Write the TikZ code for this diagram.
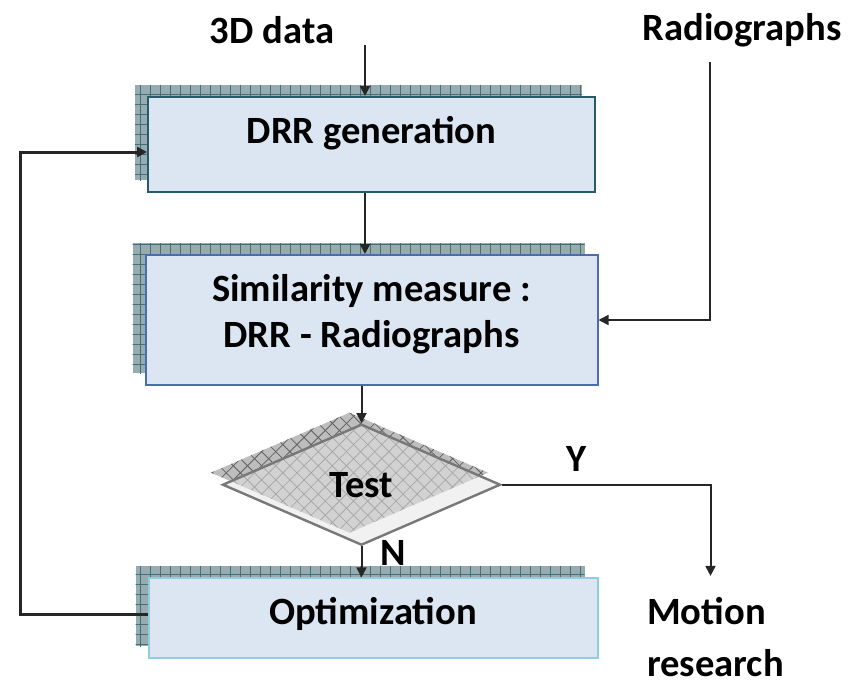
\documentclass[tikz,border=0pt]{standalone}
\usepackage{fontspec}
\setmainfont{Carlito}
\usetikzlibrary{positioning, arrows.meta, shapes.geometric, calc, shadows, patterns.meta}

\definecolor{boxfill}{RGB}{220,230,242}
\definecolor{shadefill}{RGB}{150,172,176}
\definecolor{shadegrid}{RGB}{70,110,118}
\definecolor{drrline}{RGB}{40,90,105}
\definecolor{simline}{RGB}{75,110,170}
\definecolor{optline}{RGB}{145,205,220}
\definecolor{testshade}{RGB}{135,135,135}
\definecolor{testgrid}{RGB}{95,95,95}
\definecolor{testline}{RGB}{120,120,120}

\begin{document}
\begin{tikzpicture}[x=0.5pt, y=-0.5pt,
			font=\fontsize{19.3}{23}\selectfont\bfseries,
			boxshadow/.style={
				general shadow={shadow xshift=-6.5pt, shadow yshift=6pt, fill=shadefill},
				general shadow={shadow xshift=-6.5pt, shadow yshift=6pt, pattern={Lines[angle=0, distance=5pt, line width=0.5pt]}, pattern color=shadegrid},
				general shadow={shadow xshift=-6.5pt, shadow yshift=6pt, pattern={Lines[angle=90, distance=5pt, line width=0.5pt]}, pattern color=shadegrid}},
			box/.style={rectangle, boxshadow, fill=boxfill, line width=1pt, align=center},
			decision/.style={diamond, minimum width=139pt, minimum height=60.5pt, inner sep=0pt,
				general shadow={shadow xshift=-6pt, shadow yshift=6pt, fill=testshade},
				general shadow={shadow xshift=-6pt, shadow yshift=6pt, pattern={Lines[angle=45, distance=5pt, line width=0.4pt]}, pattern color=testgrid},
				general shadow={shadow xshift=-6pt, shadow yshift=6pt, pattern={Lines[angle=-45, distance=5pt, line width=0.4pt]}, pattern color=testgrid},
				fill=gray!20, fill opacity=0.55, text opacity=1, draw=testline, draw opacity=1, line width=1.2pt},
			arrow/.style={-{Triangle[length=5pt, width=5pt]}, line width=1pt, draw=black!85},
			tag/.style={inner sep=2pt}
			]
			\useasboundingbox (0,0) rectangle (848,685);
			\node[box, draw=drrline, minimum width=223.5pt, minimum height=47.5pt, text height=14pt, text depth=15.5pt] (drr) at (371.5,144.5) {DRR generation};
			\node[box, draw=simline, minimum width=226pt, minimum height=65pt, text height=37pt, text depth=10pt, below=30.5pt of drr] (sim) {Similarity measure :\\ DRR - Radiographs};
			\node[decision, below=18.5pt of sim, xshift=-5pt] (test) {Test};
			\node[box, draw=optline, minimum width=224.5pt, minimum height=40pt, text height=13pt, text depth=7pt, below=15.5pt of test, xshift=5.75pt] (opt) {Optimization};
			\node[tag] (data) at (272,30) {3D data};
			\node[tag] (radio) at (742,30) {Radiographs};
			\node[tag, align=left] (motion) at (715.5,637) {Motion\\[3pt]research};
			\coordinate (datain) at (365,45);
			\coordinate (radioin) at (710,62);
			\coordinate (loopx) at (20,0);
			% main flow
			\draw[arrow] (datain) -- (datain |- drr.north);
			\draw[arrow] (datain |- drr.south) -- (datain |- sim.north);
			\draw[arrow] (sim.south -| test.north) -- (test.north);
			\draw[arrow] (test.south) -- node[tag, pos=0.2, right=7pt] {N} (test.south |- opt.north);
			\draw[arrow] (test.east) -| node[tag, pos=0.18, above=4pt] {Y} ($(motion.north)+(-5,-17)$);
			% inputs and loop back
			\draw[arrow, line width=0.8pt] (radioin) |- (sim.east);
			\draw[arrow, line width=1.5pt] ([yshift=2pt]opt.west) -- ([yshift=2pt]opt.west -| loopx) |- ([yshift=-3.75pt]drr.west);
		\end{tikzpicture}
\end{document}
